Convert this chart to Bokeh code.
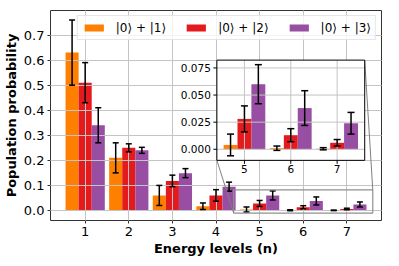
import numpy as np
from bokeh.plotting import figure
from bokeh.models import Range1d, FixedTicker, PrintfTickFormatter, ColumnDataSource
from bokeh.embed import file_html
from bokeh.resources import INLINE
from bokeh.core.properties import value

# ---------------- data ----------------
levels = [1, 2, 3, 4, 5, 6, 7]
p01 = [0.63, 0.21, 0.06, 0.017, 0.004, 0.001, 0.0005]
e01 = [0.13, 0.06, 0.04, 0.013, 0.010, 0.002, 0.001]
p02 = [0.51, 0.25, 0.118, 0.06, 0.028, 0.013, 0.006]
e02 = [0.08, 0.016, 0.023, 0.023, 0.012, 0.006, 0.003]
p03 = [0.34, 0.24, 0.149, 0.095, 0.060, 0.038, 0.024]
e03 = [0.07, 0.012, 0.018, 0.018, 0.018, 0.016, 0.010]
series_labels = ["|0⟩ + |1⟩", "|0⟩ + |2⟩", "|0⟩ + |3⟩"]
y_ticks = [0.0, 0.1, 0.2, 0.3, 0.4, 0.5, 0.6, 0.7]
inset_levels = [5, 6, 7]
inset_yticks = [0.0, 0.025, 0.05, 0.075]

# ---------------- style ----------------
FONT = "DejaVu Sans"
colors = ["#ff7f00", "#e41a1c", "#984ea3"]
offsets = [-0.3, 0.0, 0.3]
bar_w = 0.3
grid_col = "#c4c4c4"

p = figure(width=383, height=260,
           x_range=Range1d(0.205, 7.795), y_range=Range1d(-0.04, 0.798),
           output_backend="svg", toolbar_location=None,
           min_border_left=45, min_border_right=2, min_border_top=10, min_border_bottom=40)
p.background_fill_color = "white"
p.border_fill_color = "white"
p.outline_line_color = "#333333"
p.outline_line_width = 1

p.xaxis.ticker = FixedTicker(ticks=levels)
p.yaxis.ticker = FixedTicker(ticks=y_ticks)
p.yaxis.formatter = PrintfTickFormatter(format="%.1f")
for ax in (p.xaxis, p.yaxis):
    ax.axis_line_color = None
    ax.major_tick_out = 3
    ax.major_tick_in = 0
    ax.minor_tick_line_color = None
    ax.major_tick_line_color = "#333333"
    ax.major_label_text_font = FONT
    ax.major_label_text_font_size = "13px"
    ax.major_label_text_color = "black"
    ax.major_label_standoff = 3
    ax.axis_label_text_font = FONT
    ax.axis_label_text_font_size = "13px"
    ax.axis_label_text_font_style = "bold"
    ax.axis_label_text_color = "black"
    ax.axis_label_standoff = 2
p.xaxis.axis_label = "Energy levels (n)"
p.yaxis.axis_label = "Population probability"

for g in (p.xgrid, p.ygrid):
    g.grid_line_color = grid_col
    g.grid_line_width = 1
    g.level = "guide"

series = list(zip([p01, p02, p03], [e01, e02, e03]))
for (vals, errs), lab, col, off in zip(series, series_labels, colors, offsets):
    src = ColumnDataSource(dict(
        x=[l + off for l in levels], top=vals,
        lo=[v - e for v, e in zip(vals, errs)], hi=[v + e for v, e in zip(vals, errs)]))
    p.vbar(x="x", top="top", bottom=0, width=bar_w, source=src,
           fill_color=col, line_color=None, legend_label=lab)
    r = p.segment(x0="x", y0="lo", x1="x", y1="hi", source=src, line_color="black", line_width=1.5)
    r.level = "annotation"
    for key in ("lo", "hi"):
        r = p.scatter(x="x", y=key, source=src, marker="dash", size=6,
                      line_color="black", line_width=1.5)
        r.level = "annotation"

# ---------------- inset ----------------
xs_src = Range1d(4.405, 7.595)
ys_src = Range1d(-0.0102, 0.0822)
x_tgt = Range1d(4.02, 7.41)
y_tgt = Range1d(0.2, 0.6)

# indicator rectangle and connectors (main coordinates)
r = p.quad(left=xs_src.start, right=xs_src.end, bottom=ys_src.start, top=ys_src.end,
           fill_color=None, line_color="#909090", line_width=1.2)
r.level = "annotation"
r = p.segment(x0=[x_tgt.start, x_tgt.end], y0=[y_tgt.start, y_tgt.end],
              x1=[xs_src.start, xs_src.end], y1=[ys_src.start, ys_src.end],
              line_color="#808080", line_width=1)
r.level = "annotation"

r = p.quad(left=x_tgt.start, right=x_tgt.end, bottom=y_tgt.start, top=y_tgt.end,
           fill_color="white", line_color=None)
r.level = "overlay"

sub = p.subplot(x_source=xs_src, y_source=ys_src, x_target=x_tgt, y_target=y_tgt)

for (vals, errs), col, off in zip(series, colors, offsets):
    v = vals[4:]
    e = errs[4:]
    src = ColumnDataSource(dict(
        x=[l + off for l in inset_levels], top=v,
        lo=[a - b for a, b in zip(v, e)], hi=[a + b for a, b in zip(v, e)]))
    r = sub.vbar(x="x", top="top", bottom=0, width=bar_w, source=src,
                 fill_color=col, line_color=None)
    r.level = "overlay"

# inset grid (over bars, like the main plot)
r = sub.segment(x0=inset_levels, y0=[ys_src.start] * 3, x1=inset_levels, y1=[ys_src.end] * 3,
                line_color=grid_col, line_width=1)
r.level = "overlay"
r = sub.segment(x0=[xs_src.start] * 4, y0=inset_yticks, x1=[xs_src.end] * 4, y1=inset_yticks,
                line_color=grid_col, line_width=1)
r.level = "overlay"

for (vals, errs), off in zip(series, offsets):
    v = vals[4:]
    e = errs[4:]
    src = ColumnDataSource(dict(
        x=[l + off for l in inset_levels],
        lo=[a - b for a, b in zip(v, e)], hi=[a + b for a, b in zip(v, e)]))
    r = sub.segment(x0="x", y0="lo", x1="x", y1="hi", source=src, line_color="black", line_width=1.5)
    r.level = "overlay"
    for key in ("lo", "hi"):
        r = sub.scatter(x="x", y=key, source=src, marker="dash", size=7,
                        line_color="black", line_width=1.5)
        r.level = "overlay"

r = sub.quad(left=xs_src.start, right=xs_src.end, bottom=ys_src.start, top=ys_src.end,
             fill_color=None, line_color="black", line_width=1)
r.level = "overlay"

# inset ticks and labels
r = sub.ray(x=[xs_src.start] * 4, y=inset_yticks, length=3.5, length_units="screen",
            angle=np.pi, line_color="black", line_width=1)
r.level = "overlay"
r = sub.ray(x=inset_levels, y=[ys_src.start] * 3, length=3.5, length_units="screen",
            angle=-np.pi / 2, line_color="black", line_width=1)
r.level = "overlay"
r = sub.text(x=[xs_src.start] * 4, y=inset_yticks, text=[f"{t:.3f}" for t in inset_yticks],
             text_align="right", text_baseline="middle", x_offset=-6,
             text_font=value(FONT), text_font_size="10.5px", text_color="black")
r.level = "overlay"
r = sub.text(x=inset_levels, y=[ys_src.start] * 3, text=[str(t) for t in inset_levels],
             text_align="center", text_baseline="top", y_offset=5,
             text_font=value(FONT), text_font_size="10.5px", text_color="black")
r.level = "overlay"

# ---------------- legend ----------------
lg = p.legend[0]
lg.orientation = "horizontal"
lg.location = "top_right"
lg.margin = 5
lg.padding = 4
lg.spacing = 18
lg.glyph_width = 24
lg.glyph_height = 9
lg.label_height = 15
lg.label_standoff = 10
lg.label_text_font = FONT
lg.label_text_font_size = "12px"
lg.label_text_color = "black"
lg.background_fill_color = "white"
lg.background_fill_alpha = 0.8
lg.border_line_color = "#cccccc"
lg.border_line_width = 1

open("out.html", "w").write(file_html(p, INLINE))
